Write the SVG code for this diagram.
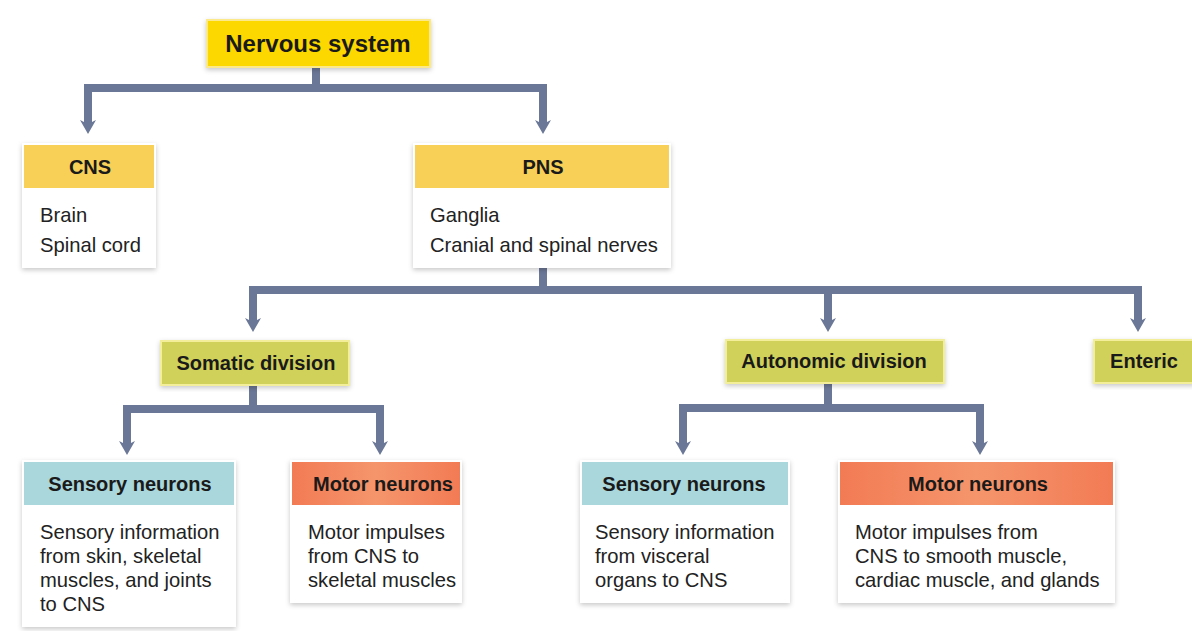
<svg xmlns="http://www.w3.org/2000/svg" width="1192" height="631" viewBox="0 0 1192 631">
<defs>
<filter id="sh" x="-10%" y="-10%" width="120%" height="125%">
<feDropShadow dx="0" dy="2" stdDeviation="2.5" flood-color="#000" flood-opacity="0.22"/>
</filter>
<linearGradient id="gMotor" x1="0" y1="0" x2="1" y2="0">
<stop offset="0" stop-color="#f27b54"/><stop offset="0.5" stop-color="#f5956c"/><stop offset="1" stop-color="#f27b54"/>
</linearGradient>
<marker id="arr" viewBox="0 0 14 16" refX="4" refY="8" markerWidth="14" markerHeight="16" markerUnits="userSpaceOnUse" orient="auto">
<path d="M0,0 L14,8 L0,16 L4,8 Z" fill="#6b7796"/>
</marker>
<style>
.box{fill:#fff;filter:url(#sh)}
.conn{fill:none;stroke:#6b7796;stroke-width:8}
.head{font-family:"Liberation Sans",Arial,sans-serif;font-weight:bold;font-size:20px;fill:#1a1a1a;text-anchor:middle}
.big{font-size:24px}
.body{font-family:"Liberation Sans",Arial,sans-serif;font-size:20.2px;fill:#222}
.h1{fill:#f8d057}
.h2{fill:#d0d15a;stroke:#f2ee9a;stroke-width:2}
.h3{fill:#aad7dc}
</style>
</defs>
<rect width="1192" height="631" fill="#fff"/>
<g id="connectors">
<path class="conn" d="M316,67 V88 M88,88 H543"/>
<path class="conn" d="M88,84 V124" marker-end="url(#arr)"/>
<path class="conn" d="M543,84 V124" marker-end="url(#arr)"/>
<path class="conn" d="M543,268 V290 M253,290 H1138"/>
<path class="conn" d="M253,286 V322" marker-end="url(#arr)"/>
<path class="conn" d="M828,286 V322" marker-end="url(#arr)"/>
<path class="conn" d="M1138,286 V322" marker-end="url(#arr)"/>
<path class="conn" d="M253,385 V409 M127,409 H380"/>
<path class="conn" d="M127,405 V445" marker-end="url(#arr)"/>
<path class="conn" d="M380,405 V445" marker-end="url(#arr)"/>
<path class="conn" d="M828,383 V408 M683,408 H980"/>
<path class="conn" d="M683,404 V445" marker-end="url(#arr)"/>
<path class="conn" d="M980,404 V445" marker-end="url(#arr)"/>
</g>
<g id="nervous-system">
<rect x="207" y="20" width="223" height="47" fill="#fcd700" stroke="#fbe98a" stroke-width="2" filter="url(#sh)"/>
<text x="318" y="52" class="head big">Nervous system</text>
</g>
<g id="cns">
<rect class="box" x="22" y="143" width="134" height="125"/>
<rect class="h1" x="24" y="145" width="130" height="43"/>
<text x="90" y="174" class="head">CNS</text>
<text class="body" x="40" y="222">Brain</text>
<text class="body" x="40" y="252">Spinal cord</text>
</g>
<g id="pns">
<rect class="box" x="413" y="143" width="258" height="125"/>
<rect class="h1" x="415" y="145" width="254" height="43"/>
<text x="543" y="174" class="head">PNS</text>
<text class="body" x="430" y="222">Ganglia</text>
<text class="body" x="430" y="252">Cranial and spinal nerves</text>
</g>
<g id="somatic">
<rect class="h2" x="161" y="341" width="188" height="44" filter="url(#sh)"/>
<text x="256" y="370" class="head">Somatic division</text>
</g>
<g id="autonomic">
<rect class="h2" x="726" y="340" width="218" height="43" filter="url(#sh)"/>
<text x="834" y="368" class="head">Autonomic division</text>
</g>
<g id="enteric">
<rect class="h2" x="1094" y="340" width="100" height="43" filter="url(#sh)"/>
<text x="1144" y="368" class="head">Enteric</text>
</g>
<g id="sensory-somatic">
<rect class="box" x="22" y="460" width="214" height="167"/>
<rect class="h3" x="24" y="462" width="210" height="43"/>
<text x="130" y="491" class="head">Sensory neurons</text>
<text class="body" x="40" y="539">Sensory information</text>
<text class="body" x="40" y="563">from skin, skeletal</text>
<text class="body" x="40" y="587">muscles, and joints</text>
<text class="body" x="40" y="611">to CNS</text>
</g>
<g id="motor-somatic">
<rect class="box" x="290" y="460" width="172" height="143"/>
<rect x="292" y="462" width="168" height="43" fill="url(#gMotor)"/>
<text x="383" y="491" class="head">Motor neurons</text>
<text class="body" x="308" y="539">Motor impulses</text>
<text class="body" x="308" y="563">from CNS to</text>
<text class="body" x="308" y="587">skeletal muscles</text>
</g>
<g id="sensory-autonomic">
<rect class="box" x="580" y="460" width="210" height="143"/>
<rect class="h3" x="582" y="462" width="206" height="43"/>
<text x="684" y="491" class="head">Sensory neurons</text>
<text class="body" x="595" y="539">Sensory information</text>
<text class="body" x="595" y="563">from visceral</text>
<text class="body" x="595" y="587">organs to CNS</text>
</g>
<g id="motor-autonomic">
<rect class="box" x="838" y="460" width="277" height="143"/>
<rect x="840" y="462" width="273" height="43" fill="url(#gMotor)"/>
<text x="978" y="491" class="head">Motor neurons</text>
<text class="body" x="855" y="539">Motor impulses from</text>
<text class="body" x="855" y="563">CNS to smooth muscle,</text>
<text class="body" x="855" y="587">cardiac muscle, and glands</text>
</g>
</svg>
